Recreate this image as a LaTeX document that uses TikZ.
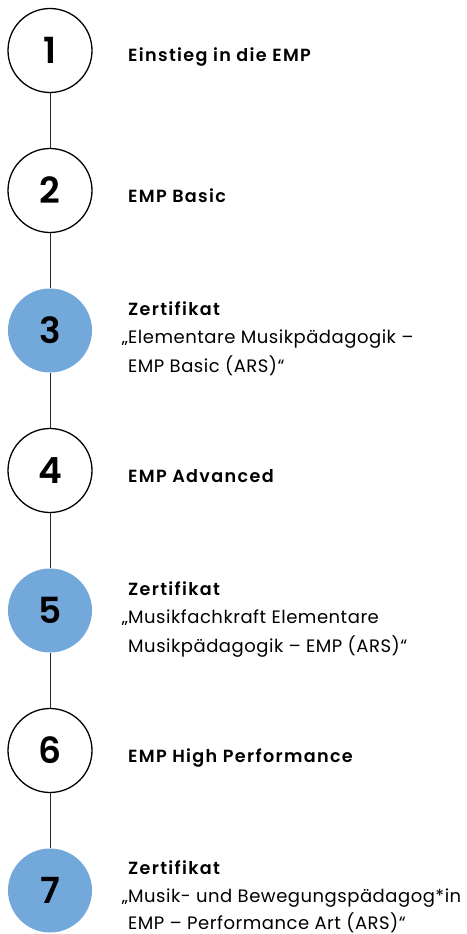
\documentclass[tikz,border=0pt]{standalone}
\usepackage{fontspec}
\setmainfont{Poppins}[Ligatures=NoCommon,BoldFont={Poppins SemiBold}]
\newfontfamily\bodyfont{Poppins}[Ligatures=NoCommon,LetterSpace=2.9]
\newfontfamily\headfont{Poppins SemiBold}[Ligatures=NoCommon,LetterSpace=7.6]
\definecolor{empblue}{RGB}{114,168,218}
\begin{document}
\begin{tikzpicture}[x=1pt,y=-1pt,
  stepring/.style={circle,minimum size=84pt,inner sep=0pt,draw=black,line width=1.3pt,
    font=\fontsize{36}{36}\selectfont\bfseries},
  stepfill/.style={circle,minimum size=84pt,inner sep=0pt,fill=empblue,draw=none,
    font=\fontsize{36}{36}\selectfont\bfseries},
  title/.style={anchor=base west,inner sep=0pt,font=\fontsize{17.6}{20}\selectfont\headfont},
  body/.style={anchor=base west,inner sep=0pt,font=\fontsize{18}{20}\selectfont\bodyfont},
  link/.style={line width=1pt,draw=black!85}]
\useasboundingbox (0,0) rectangle (466,934);
\node[stepring] (c1) at (50,50.5) {1};
\node[stepring] (c2) at (50,190.5) {2};
\node[stepfill] (c3) at (50,330.5) {3};
\node[stepring] (c4) at (50,470.5) {4};
\node[stepfill] (c5) at (50,610.5) {5};
\node[stepring] (c6) at (50,750.5) {6};
\node[stepfill] (c7) at (50,890.5) {7};
\draw[link] (c1) -- (c2);
\draw[link] (c2) -- (c3);
\draw[link] (c3) -- (c4);
\draw[link] (c4) -- (c5);
\draw[link] (c5) -- (c6);
\draw[link] (c6) -- (c7);
\node[title] (t1) at (128,62) {Einstieg in die EMP};
\node[title] (t2) at (128,202) {EMP Basic};
\node[title] (t3) at (128,315) {Zertifikat};
\node[body] (t3a) at (128,343.5) {\llap{„}Elementare Musikpädagogik –};
\node[body] (t3b) at (128,372) {EMP Basic (ARS)“};
\node[title] (t4) at (128,482) {EMP Advanced};
\node[title] (t5) at (128,595) {Zertifikat};
\node[body] (t5a) at (128,623.5) {\llap{„}Musikfachkraft Elementare};
\node[body] (t5b) at (128,652) {Musikpädagogik – EMP (ARS)“};
\node[title] (t6) at (128,762) {EMP High Performance};
\node[title] (t7) at (128,874) {Zertifikat};
\node[body] (t7a) at (128,902) {\llap{„}Musik- und Bewegungspädagog*in};
\node[body] (t7b) at (128,929) {EMP – Performance Art (ARS)“};
\end{tikzpicture}
\end{document}
